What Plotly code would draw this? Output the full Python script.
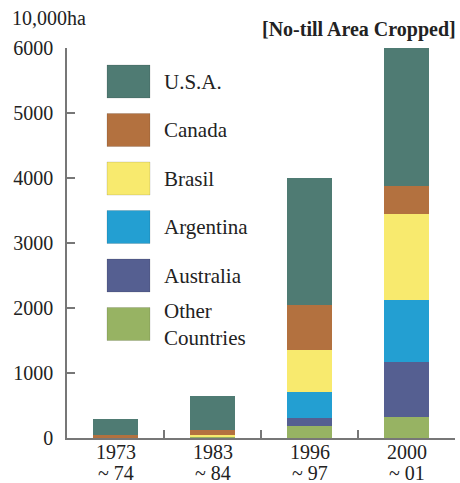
import plotly.graph_objects as go

# Periods (category axis) and no-till area by country, in 10,000 ha
periods = ["1973-74", "1983-84", "1996-97", "2000-01"]
period_top = ["1973", "1983", "1996", "2000"]
period_bottom = ["~ 74", "~ 84", "~ 97", "~ 01"]
other = [0, 30, 185, 320]
australia = [0, 0, 120, 850]
argentina = [0, 0, 400, 950]
brasil = [0, 20, 650, 1320]
canada = [40, 80, 690, 430]
usa = [250, 510, 1950, 2130]

series_names = ["U.S.A.", "Canada", "Brasil", "Argentina", "Australia", "Other<br>Countries"]
series_values = [usa, canada, brasil, argentina, australia, other]
series_colors = ["#4f7b73", "#b3713f", "#f8ea6e", "#239fd2", "#555f91", "#97b363"]

y_ticks = [0, 1000, 2000, 3000, 4000, 5000, 6000]

SERIF = "Liberation Serif, Times New Roman, serif"
INK = "#222"

fig = go.Figure()
# stack from the bottom: Other first, U.S.A. on top
for name, vals, col in reversed(list(zip(series_names, series_values, series_colors))):
    fig.add_trace(go.Bar(
        x=periods, y=vals, name=name.replace("<br>", " "),
        marker=dict(color=col, line=dict(width=0)),
        width=0.46, showlegend=False,
    ))

W, H = 460, 483
ML, MR, MT, MB = 67, 5, 48, 45
PW, PH = W - ML - MR, H - MT - MB


def px_x(x):
    return (x - ML) / PW


def px_y(y):
    return (H - MB - y) / PH


# hand-laid legend with large swatches
shapes = []
annotations = []
for i, (name, col) in enumerate(zip(series_names, series_colors)):
    top = 65 + 48.5 * i
    shapes.append(dict(
        type="rect", xref="paper", yref="paper",
        x0=px_x(107), x1=px_x(150), y0=px_y(top + 33), y1=px_y(top),
        fillcolor=col, line=dict(color="rgba(0,0,0,0.12)", width=1),
    ))
    annotations.append(dict(
        xref="paper", yref="paper", x=px_x(162), y=px_y(top + 16.5),
        text=name, showarrow=False, xanchor="left", yanchor="middle",
        align="left", font=dict(family=SERIF, size=21, color=INK),
    ))

# two-line period labels under the category axis
for p, t, b in zip(periods, period_top, period_bottom):
    annotations.append(dict(
        xref="x", yref="paper", x=p, y=px_y(452), text=t, showarrow=False,
        xanchor="center", yanchor="middle",
        font=dict(family=SERIF, size=20, color=INK),
    ))
    annotations.append(dict(
        xref="x", yref="paper", x=p, y=px_y(473), text=b, showarrow=False,
        xanchor="center", yanchor="middle",
        font=dict(family=SERIF, size=20, color=INK),
    ))

annotations.append(dict(
    xref="paper", yref="paper", x=px_x(10), y=px_y(18),
    text="10,000ha", showarrow=False, xanchor="left", yanchor="middle",
    font=dict(family=SERIF, size=20, color=INK),
))
annotations.append(dict(
    xref="paper", yref="paper", x=px_x(458), y=px_y(30),
    text="<b>[No-till Area Cropped]</b>", showarrow=False,
    xanchor="right", yanchor="middle",
    font=dict(family=SERIF, size=20, color=INK),
))

fig.update_layout(
    width=W, height=H,
    margin=dict(l=ML, r=MR, t=MT, b=MB, pad=0, autoexpand=False),
    paper_bgcolor="white", plot_bgcolor="white",
    barmode="stack", bargap=0.54,
    shapes=shapes, annotations=annotations,
    font=dict(family=SERIF, size=20, color=INK),
    xaxis=dict(
        type="category", showgrid=False, zeroline=False, automargin=False,
        showline=True, linecolor="#777", linewidth=1.5,
        ticks="inside", tickson="boundaries", ticklen=8, tickcolor="#777",
        tickwidth=1.5, showticklabels=False,
    ),
    yaxis=dict(
        range=[0, 6000], tickvals=y_ticks, showgrid=False, zeroline=False,
        automargin=False,
        showline=True, linecolor="#777", linewidth=1.5,
        ticks="inside", ticklen=8, tickcolor="#777", tickwidth=1.5,
        tickfont=dict(family=SERIF, size=20, color=INK),
        ticklabelstandoff=8,
    ),
)

fig.write_html("out.html")
